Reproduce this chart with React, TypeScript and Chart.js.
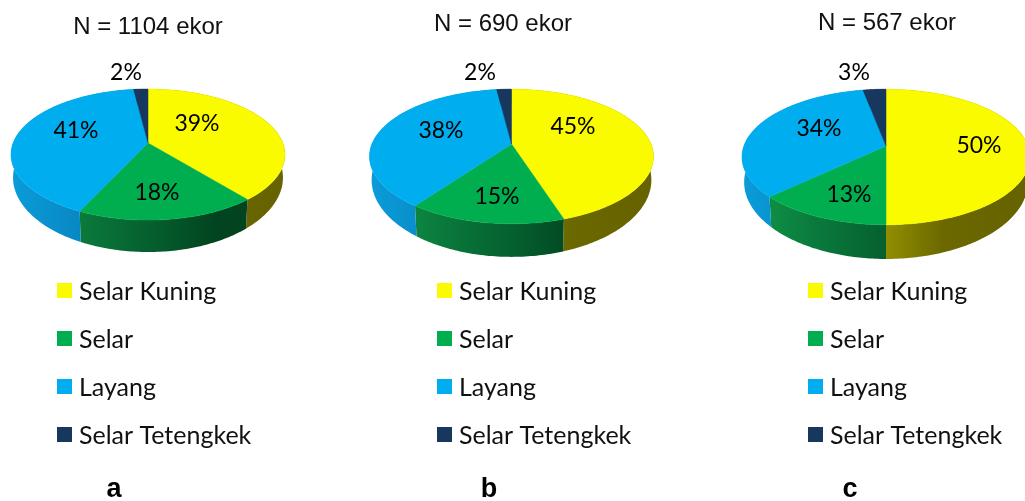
import React, { useEffect, useRef } from "react";
import { Chart, registerables } from "chart.js";

Chart.register(...registerables);

const categories = ["Selar Kuning", "Selar", "Layang", "Selar Tetengkek"];
const sharesA = [39, 18, 41, 2];
const sharesB = [45, 15, 38, 2];
const sharesC = [50, 13, 34, 3];

const topColours = ["#fbfb00", "#00ae4f", "#00aeef", "#17375e"];
// Side-wall shading, as [position from -1 (left rim) to 1 (right rim), colour]
const wallStops: [number, string][][] = [
  [[0, "#918e00"], [0.4, "#6b6800"], [1, "#666300"]],
  [[-1, "#109a4a"], [-0.5, "#0a7a3c"], [0, "#05602f"], [0.5, "#01441f"], [1, "#01441f"]],
  [[-1, "#0a9cd9"], [-0.4, "#0884bf"], [1, "#0884bf"]],
  [[-1, "#102a48"], [1, "#102a48"]],
];

const LEGEND_ROWS = [291, 339, 387, 435];
const HEIGHT = 501;
// The underside of the disc sits further away, so its rim is slightly narrower.
const UNDERSIDE_SCALE = 0.985;

const panels = [
  {
    shares: sharesA, title: "N = 1104 ekor", tag: "a",
    left: 0, width: 345, cx: 148, cy: 143, radius: 137, squash: 63.5, persp: 0.176, depth: 21.7,
    titlePos: [148, 27], tagPos: [114, 490], legendX: 57,
    labelPos: [[197, 124], [157, 193], [76, 131], [126, 73]],
  },
  {
    shares: sharesB, title: "N = 690 ekor", tag: "b",
    left: 345, width: 375, cx: 166.5, cy: 144, radius: 142, squash: 65, persp: 0.185, depth: 22,
    titlePos: [503, 24], tagPos: [489, 490], legendX: 437,
    labelPos: [[573, 127], [497, 197], [441, 131], [480, 73]],
  },
  {
    shares: sharesC, title: "N = 567 ekor", tag: "c",
    left: 720, width: 310, cx: 166, cy: 146, radius: 144, squash: 66, persp: 0.162, depth: 24,
    titlePos: [887, 23], tagPos: [850, 490], legendX: 808,
    labelPos: [[979, 146], [849, 195], [819, 129], [854, 73]],
  },
];

type Panel = (typeof panels)[number];

// Maps a pie angle onto the tilted disc, with the near edge enlarged by perspective.
function projector(p: Panel, x0: number, y0: number, R: number) {
  const B = R * Math.sqrt(1 - p.persp * p.persp);
  return (angle: number, scale = 1, drop = 0) => {
    const u = Math.cos(angle);
    const v = Math.sin(angle);
    const w = 1 - p.persp * v;
    return [x0 + (B * u * scale) / w, y0 + (p.squash * v) / w + drop / (w * w)];
  };
}

function tiltedPie(p: Panel) {
  return {
    id: "tiltedPie",
    beforeDatasetsDraw(chart: any) {
      const ctx: CanvasRenderingContext2D = chart.ctx;
      const arcs = chart.getDatasetMeta(0).data;
      const { x, y, outerRadius } = arcs[0];
      const at = projector(p, x, y, outerRadius);

      // Walls first; the top face then hides whatever lies behind it.
      arcs.forEach((arc: any, i: number) => {
        const grad = ctx.createLinearGradient(x - outerRadius, 0, x + outerRadius, 0);
        wallStops[i].forEach(([pos, col]) => grad.addColorStop((pos + 1) / 2, col));
        ctx.beginPath();
        const steps = Math.max(2, Math.ceil((arc.endAngle - arc.startAngle) * 60));
        for (let s = 0; s <= steps; s++) {
          const [px, py] = at(arc.startAngle + ((arc.endAngle - arc.startAngle) * s) / steps);
          s ? ctx.lineTo(px, py) : ctx.moveTo(px, py);
        }
        for (let s = steps; s >= 0; s--) {
          const [px, py] = at(
            arc.startAngle + ((arc.endAngle - arc.startAngle) * s) / steps,
            UNDERSIDE_SCALE,
            p.depth,
          );
          ctx.lineTo(px, py);
        }
        ctx.closePath();
        ctx.fillStyle = grad;
        ctx.fill();
      });

      arcs.forEach((arc: any, i: number) => {
        ctx.beginPath();
        ctx.moveTo(x, y);
        const steps = Math.max(2, Math.ceil((arc.endAngle - arc.startAngle) * 60));
        for (let s = 0; s <= steps; s++) {
          const [px, py] = at(arc.startAngle + ((arc.endAngle - arc.startAngle) * s) / steps);
          ctx.lineTo(px, py);
        }
        ctx.closePath();
        ctx.fillStyle = topColours[i];
        ctx.strokeStyle = topColours[i];
        ctx.lineWidth = 0.5;
        ctx.fill();
        ctx.stroke();
      });
      return false;
    },
    afterDraw(chart: any) {
      const ctx: CanvasRenderingContext2D = chart.ctx;
      ctx.save();
      ctx.textBaseline = "middle";

      ctx.textAlign = "center";
      ctx.font = '24px "Liberation Sans"';
      ctx.fillStyle = "#111";
      ctx.fillText(p.title, p.titlePos[0] - p.left, p.titlePos[1]);

      ctx.font = "23px Lato";
      ctx.fillStyle = "#000";
      p.shares.forEach((v, i) => {
        const [lx, ly] = p.labelPos[i];
        ctx.fillText(`${v}%`, lx - p.left, ly);
      });

      ctx.font = 'bold 27px "Liberation Sans"';
      ctx.fillText(p.tag, p.tagPos[0] - p.left, p.tagPos[1]);

      ctx.textAlign = "left";
      ctx.font = "25px Lato";
      categories.forEach((name, i) => {
        const row = LEGEND_ROWS[i];
        ctx.fillStyle = topColours[i];
        ctx.fillRect(p.legendX - p.left, row - 8, 15, 15);
        ctx.fillStyle = "#111";
        ctx.fillText(name, p.legendX + 22 - p.left, row + 1);
      });
      ctx.restore();
    },
  };
}

function PiePanel({ panel }: { panel: Panel }) {
  const ref = useRef<HTMLCanvasElement | null>(null);
  useEffect(() => {
    const R = panel.radius;
    const chart = new Chart(ref.current!, {
      type: "pie",
      data: {
        labels: categories,
        datasets: [{ data: panel.shares, backgroundColor: topColours, borderWidth: 0 }],
      },
      options: {
        responsive: false,
        animation: false,
        layout: {
          padding: {
            left: panel.cx - R,
            right: panel.width - panel.cx - R,
            top: panel.cy - R,
            bottom: HEIGHT - panel.cy - R,
          },
        },
        plugins: { legend: { display: false }, tooltip: { enabled: false } },
      },
      plugins: [tiltedPie(panel)],
    } as any);
    return () => chart.destroy();
  }, [panel]);
  return (
    <canvas
      ref={ref}
      width={panel.width}
      height={HEIGHT}
      style={{ position: "absolute", left: panel.left, top: 0, display: "block" }}
    />
  );
}

export default function App() {
  return (
    <div
      style={{
        position: "fixed", left: 0, top: 0, width: 1025, height: HEIGHT,
        overflow: "hidden", background: "#fff",
      }}
    >
      {panels.map((p) => (
        <PiePanel key={p.tag} panel={p} />
      ))}
    </div>
  );
}
